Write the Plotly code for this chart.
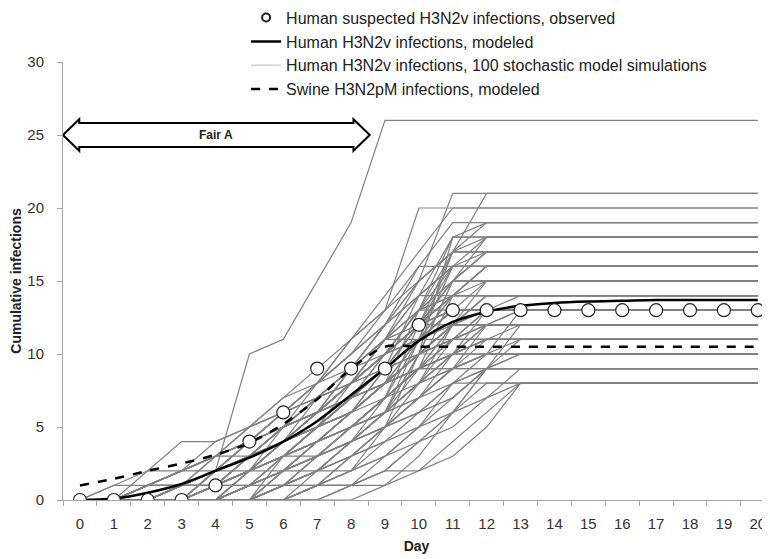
import plotly.graph_objects as go

days = list(range(21))
observed = [0, 0, 0, 0, 1, 4, 6, 9, 9, 9, 12, 13, 13, 13, 13, 13, 13, 13, 13, 13, 13]
human_modeled = [0, 0.1, 0.5, 1.1, 2.0, 2.9, 4.0, 5.4, 7.2, 9.0, 10.9, 12.2, 12.9, 13.3,
                 13.5, 13.6, 13.65, 13.7, 13.7, 13.7, 13.7]
swine_modeled = [1.0, 1.45, 2.0, 2.5, 3.1, 3.9, 5.2, 6.9, 9.0, 10.5, 10.5, 10.5, 10.5, 10.5,
                 10.5, 10.5, 10.5, 10.5, 10.5, 10.5, 10.5]

sim_1 = [0,0,0,0,2,10,11,15,19,26,26,26,26,26,26,26,26,26,26,26,26]
sim_2 = [0,0,1,2,3,4,5,7,9,12,15,21,21,21,21,21,21,21,21,21,21]
sim_3 = [0,0,0,1,2,3,5,6,8,10,13,17,21,21,21,21,21,21,21,21,21]
sim_4 = [0,0,1,2,3,5,7,8,11,13,20,20,20,20,20,20,20,20,20,20,20]
sim_5 = [0,0,0,0,1,3,4,6,8,11,15,17,19,19,19,19,19,19,19,19,19]
sim_6 = [0,0,0,1,2,4,6,7,9,12,14,18,18,18,18,18,18,18,18,18,18]
sim_7 = [0,0,0,0,0,2,3,5,7,10,13,16,18,18,18,18,18,18,18,18,18]
sim_8 = [0,0,0,1,3,4,5,7,8,10,12,17,17,17,17,17,17,17,17,17,17]
sim_9 = [0,0,0,0,1,2,4,6,9,11,13,15,17,17,17,17,17,17,17,17,17]
sim_10 = [0,0,1,2,4,5,6,8,10,12,16,16,16,16,16,16,16,16,16,16,16]
sim_11 = [0,0,0,0,2,3,5,6,8,10,12,14,16,16,16,16,16,16,16,16,16]
sim_12 = [0,0,0,1,2,3,4,6,7,9,12,15,15,15,15,15,15,15,15,15,15]
sim_13 = [0,0,0,0,0,1,3,5,8,10,11,13,15,15,15,15,15,15,15,15,15]
sim_14 = [0,0,1,1,2,3,5,6,8,11,14,14,14,14,14,14,14,14,14,14,14]
sim_15 = [0,0,0,0,1,2,3,5,7,9,11,12,14,14,14,14,14,14,14,14,14]
sim_16 = [0,0,0,0,0,0,2,4,6,8,10,12,13,14,14,14,14,14,14,14,14]
sim_17 = [0,0,0,1,2,3,4,5,7,10,13,13,13,13,13,13,13,13,13,13,13]
sim_18 = [0,0,0,0,1,3,4,6,8,9,11,13,13,13,13,13,13,13,13,13,13]
sim_19 = [0,0,0,0,0,1,2,4,6,8,10,12,13,13,13,13,13,13,13,13,13]
sim_20 = [0,0,0,0,0,0,1,2,4,7,9,11,12,13,13,13,13,13,13,13,13]
sim_21 = [0,0,1,2,3,4,6,7,9,11,12,12,12,12,12,12,12,12,12,12,12]
sim_22 = [0,0,0,0,2,4,5,6,8,10,11,12,12,12,12,12,12,12,12,12,12]
sim_23 = [0,0,0,0,0,1,2,3,5,7,9,10,12,12,12,12,12,12,12,12,12]
sim_24 = [0,0,0,0,0,0,0,1,3,5,7,9,11,12,12,12,12,12,12,12,12]
sim_25 = [0,0,0,1,2,3,5,6,8,11,11,11,11,11,11,11,11,11,11,11,11]
sim_26 = [0,0,0,0,1,2,3,5,7,8,10,11,11,11,11,11,11,11,11,11,11]
sim_27 = [0,0,0,0,0,1,3,4,5,7,9,10,11,11,11,11,11,11,11,11,11]
sim_28 = [0,0,0,0,0,0,1,2,4,6,8,9,10,11,11,11,11,11,11,11,11]
sim_29 = [0,0,0,1,2,3,4,5,7,9,10,10,10,10,10,10,10,10,10,10,10]
sim_30 = [0,0,0,0,1,2,3,4,6,8,9,10,10,10,10,10,10,10,10,10,10]
sim_31 = [0,0,0,0,0,0,1,3,4,6,7,9,10,10,10,10,10,10,10,10,10]
sim_32 = [0,0,0,0,0,0,0,1,2,4,6,7,9,10,10,10,10,10,10,10,10]
sim_33 = [0,0,0,0,1,2,3,4,6,7,9,9,9,9,9,9,9,9,9,9,9]
sim_34 = [0,0,0,0,0,1,2,3,4,6,7,8,9,9,9,9,9,9,9,9,9]
sim_35 = [0,0,0,0,0,0,0,1,1,2,4,5,7,9,9,9,9,9,9,9,9]
sim_36 = [0,0,0,0,0,1,2,3,4,5,6,8,8,8,8,8,8,8,8,8,8]
sim_37 = [0,0,0,0,0,0,0,1,1,1,2,4,6,8,8,8,8,8,8,8,8]
sim_38 = [0,0,0,0,0,0,1,1,1,2,2,3,5,8,8,8,8,8,8,8,8]
sim_39 = [0,1,2,2,3,4,5,6,7,9,12,14,16,16,16,16,16,16,16,16,16]
sim_40 = [0,0,2,4,4,5,6,8,10,13,16,19,19,19,19,19,19,19,19,19,19]
sim_41 = [0,0,0,1,3,4,6,8,11,14,17,20,20,20,20,20,20,20,20,20,20]
sim_42 = [0,0,0,0,1,3,5,7,9,12,15,17,17,17,17,17,17,17,17,17,17]
sim_43 = [0,0,1,2,2,3,4,6,9,11,13,14,14,14,14,14,14,14,14,14,14]
sim_44 = [0,0,0,0,0,2,4,7,9,11,12,13,13,13,13,13,13,13,13,13,13]
sim_45 = [0,1,1,2,3,4,5,7,8,10,12,13,13,13,13,13,13,13,13,13,13]
sim_46 = [0,0,0,1,1,2,4,6,9,10,12,15,15,15,15,15,15,15,15,15,15]
sim_47 = [0,0,0,0,2,4,6,8,9,11,13,15,18,18,18,18,18,18,18,18,18]
sim_48 = [0,0,0,0,0,0,2,3,5,7,9,11,13,13,13,13,13,13,13,13,13]
sim_49 = [0,0,0,1,2,4,5,6,7,9,10,11,11,11,11,11,11,11,11,11,11]
sim_50 = [0,0,0,0,1,1,2,3,4,5,7,9,10,10,10,10,10,10,10,10,10]
sim_51 = [0,0,0,0,1,3,4,5,7,8,10,12,14,14,14,14,14,14,14,14,14]
sim_52 = [0,0,1,2,3,5,7,9,11,13,15,17,17,17,17,17,17,17,17,17,17]
sim_53 = [0,0,0,0,1,2,3,5,6,8,9,12,12,12,12,12,12,12,12,12,12]
sim_54 = [0,0,0,0,0,1,3,5,6,8,10,12,15,15,15,15,15,15,15,15,15]
sim_55 = [0,0,0,1,2,3,4,6,8,10,12,14,16,16,16,16,16,16,16,16,16]
sim_56 = [0,0,0,0,0,1,2,3,5,6,11,17,18,18,18,18,18,18,18,18,18]
sim_57 = [0,0,0,0,1,2,3,4,5,7,12,16,16,16,16,16,16,16,16,16,16]
sim_58 = [0,0,0,0,0,0,1,3,4,6,10,15,17,17,17,17,17,17,17,17,17]
sim_59 = [0,0,0,0,1,2,4,5,6,8,13,14,14,14,14,14,14,14,14,14,14]
sim_60 = [0,0,0,1,2,2,3,5,6,9,14,16,16,16,16,16,16,16,16,16,16]
sim_61 = [0,0,0,0,0,1,1,3,5,7,11,13,13,13,13,13,13,13,13,13,13]
sim_62 = [0,0,0,0,0,0,1,2,3,5,8,12,13,13,13,13,13,13,13,13,13]
sim_63 = [0,0,0,0,1,2,3,3,5,6,8,11,12,12,12,12,12,12,12,12,12]
sim_64 = [0,0,0,0,0,1,2,4,5,7,9,14,15,15,15,15,15,15,15,15,15]
sim_65 = [0,0,0,0,0,0,0,2,4,6,9,12,14,14,14,14,14,14,14,14,14]
sim_66 = [0,0,0,0,0,0,2,4,5,7,8,10,11,11,11,11,11,11,11,11,11]
sim_67 = [0,0,0,1,1,2,3,4,6,8,10,11,12,12,12,12,12,12,12,12,12]
sim_68 = [0,0,0,0,1,2,2,3,4,6,8,9,10,10,10,10,10,10,10,10,10]
sim_69 = [0,0,0,0,0,0,0,0,1,3,5,8,10,13,13,13,13,13,13,13,13]
sim_70 = [0,0,0,0,0,0,1,2,2,3,5,7,9,9,9,9,9,9,9,9,9]
sim_71 = [0,0,0,0,0,0,0,1,2,3,4,6,8,8,8,8,8,8,8,8,8]
sim_72 = [0,0,1,1,2,3,4,5,6,8,9,11,13,13,13,13,13,13,13,13,13]
sim_73 = [0,0,0,0,2,3,4,5,7,9,11,13,13,13,13,13,13,13,13,13,13]
sim_74 = [0,0,0,0,0,1,3,4,6,9,12,14,14,14,14,14,14,14,14,14,14]
sim_75 = [0,0,0,0,1,1,2,4,6,8,11,16,16,16,16,16,16,16,16,16,16]
sim_76 = [0,0,0,1,2,3,5,7,8,10,13,18,19,19,19,19,19,19,19,19,19]
sim_77 = [0,0,0,0,0,2,3,4,6,8,10,11,12,12,12,12,12,12,12,12,12]
sim_78 = [0,0,0,0,0,0,1,1,3,5,7,10,12,13,13,13,13,13,13,13,13]
sim_79 = [0,0,1,1,1,2,3,4,5,7,9,10,11,11,11,11,11,11,11,11,11]
sim_80 = [0,0,0,0,1,2,4,5,7,9,12,15,17,17,17,17,17,17,17,17,17]
sim_81 = [0,0,0,0,0,0,0,0,0,1,3,6,9,11,11,11,11,11,11,11,11]
sim_82 = [0,0,0,0,1,3,5,8,10,12,14,16,16,16,16,16,16,16,16,16,16]
sim_83 = [0,0,0,0,0,0,3,5,7,9,12,13,13,13,13,13,13,13,13,13,13]
sim_84 = [0,0,0,1,1,3,5,6,7,8,10,12,12,12,12,12,12,12,12,12,12]
sim_85 = [0,0,0,0,0,2,5,6,7,8,9,10,10,10,10,10,10,10,10,10,10]
sim_86 = [0,0,1,2,3,3,4,6,7,8,9,9,9,9,9,9,9,9,9,9,9]
sim_87 = [0,0,0,0,0,0,0,1,2,5,10,15,15,15,15,15,15,15,15,15,15]
sim_88 = [0,0,0,0,1,2,3,4,5,6,10,18,18,18,18,18,18,18,18,18,18]
sim_89 = [0,0,0,0,0,1,2,2,4,6,8,10,11,11,11,11,11,11,11,11,11]
sim_90 = [0,0,0,0,0,0,0,0,1,2,4,6,9,12,12,12,12,12,12,12,12]
sim_91 = [0,0,0,1,2,3,4,5,6,8,11,14,14,14,14,14,14,14,14,14,14]
sim_92 = [0,0,0,0,1,2,4,6,8,10,11,13,13,13,13,13,13,13,13,13,13]
sim_93 = [0,0,0,0,0,1,1,2,3,4,6,8,9,9,9,9,9,9,9,9,9]
sim_94 = [0,0,0,0,2,3,4,6,8,11,14,16,17,17,17,17,17,17,17,17,17]
sim_95 = [0,0,0,0,0,0,2,3,4,5,7,9,12,12,12,12,12,12,12,12,12]
sim_96 = [0,0,0,0,1,2,3,4,5,6,8,10,13,13,13,13,13,13,13,13,13]
sim_97 = [0,0,0,1,2,3,4,6,8,9,11,14,16,16,16,16,16,16,16,16,16]
sim_98 = [0,0,0,0,0,1,2,3,4,5,6,7,9,10,10,10,10,10,10,10,10]
sim_99 = [0,0,0,0,0,0,1,2,3,4,5,6,7,8,8,8,8,8,8,8,8]
sim_100 = [0,0,1,1,2,4,6,7,8,10,12,15,15,15,15,15,15,15,15,15,15]

simulations = [sim_1, sim_2, sim_3, sim_4, sim_5, sim_6, sim_7, sim_8, sim_9, sim_10,
               sim_11, sim_12, sim_13, sim_14, sim_15, sim_16, sim_17, sim_18, sim_19, sim_20,
               sim_21, sim_22, sim_23, sim_24, sim_25, sim_26, sim_27, sim_28, sim_29, sim_30,
               sim_31, sim_32, sim_33, sim_34, sim_35, sim_36, sim_37, sim_38, sim_39, sim_40,
               sim_41, sim_42, sim_43, sim_44, sim_45, sim_46, sim_47, sim_48, sim_49, sim_50,
               sim_51, sim_52, sim_53, sim_54, sim_55, sim_56, sim_57, sim_58, sim_59, sim_60,
               sim_61, sim_62, sim_63, sim_64, sim_65, sim_66, sim_67, sim_68, sim_69, sim_70,
               sim_71, sim_72, sim_73, sim_74, sim_75, sim_76, sim_77, sim_78, sim_79, sim_80,
               sim_81, sim_82, sim_83, sim_84, sim_85, sim_86, sim_87, sim_88, sim_89, sim_90,
               sim_91, sim_92, sim_93, sim_94, sim_95, sim_96, sim_97, sim_98, sim_99, sim_100]

y_ticks = [0, 5, 10, 15, 20, 25, 30]
fair_span = [-0.5, 8.55]
fair_label = "Fair A"

FONT = "Liberation Sans, Arial, sans-serif"
SIM_COLOR = "#808080"
AXIS_COLOR = "#a6a6a6"

fig = go.Figure()

for i, s in enumerate(simulations):
    fig.add_trace(go.Scatter(
        x=days, y=s, mode="lines",
        line=dict(color=SIM_COLOR, width=1.2),
        name="Human H3N2v infections, 100 stochastic model simulations",
        showlegend=False, hoverinfo="skip",
    ))
fig.add_trace(go.Scatter(
    x=[None], y=[None], mode="lines",
    line=dict(color="#c8c8c8", width=1.2),
    name="Human H3N2v infections, 100 stochastic model simulations", legendrank=3,
))

fig.add_trace(go.Scatter(
    x=days, y=swine_modeled, mode="lines",
    line=dict(color="black", width=2.5, dash="dash", shape="spline", smoothing=0.8),
    name="Swine H3N2pM infections, modeled", legendrank=4,
))
fig.add_trace(go.Scatter(
    x=days, y=human_modeled, mode="lines",
    line=dict(color="black", width=2.5, shape="spline", smoothing=1),
    name="Human H3N2v infections, modeled", legendrank=2,
))
fig.add_trace(go.Scatter(
    x=days, y=observed, mode="markers",
    marker=dict(symbol="circle", size=13, color="white", line=dict(color="#222222", width=1.2)),
    name="Human suspected H3N2v infections, observed", showlegend=False,
))
fig.add_trace(go.Scatter(
    x=[None], y=[None], mode="markers",
    marker=dict(symbol="circle", size=8, color="white", line=dict(color="#222222", width=2)),
    name="Human suspected H3N2v infections, observed", legendrank=1,
))

# Fair A double arrow
x0, x1 = fair_span
hl = 0.48
bh, hh = 0.82, 1.08
path = (f"M {x0},25 L {x0+hl},{25+hh} L {x0+hl},{25+bh} L {x1-hl},{25+bh} "
        f"L {x1-hl},{25+hh} L {x1},25 L {x1-hl},{25-hh} L {x1-hl},{25-bh} "
        f"L {x0+hl},{25-bh} L {x0+hl},{25-hh} Z")
fig.add_shape(type="path", path=path, xref="x", yref="y",
              line=dict(color="black", width=2), fillcolor="white", layer="above")
fig.add_annotation(x=(x0 + x1) / 2, y=25, text="<b>" + fair_label + "</b>",
                   showarrow=False, font=dict(family=FONT, size=12, color="#222222"))

# the page body adds an 8px offset, so the figure is sized/margined to compensate
fig.update_layout(
    width=762, height=551,
    margin=dict(l=55, r=0, t=54, b=59, autoexpand=False),
    paper_bgcolor="white", plot_bgcolor="white",
    font=dict(family=FONT, color="#333333"),
    showlegend=True,
    legend=dict(
        x=0.259, y=1.14, xanchor="left", yanchor="top",
        bgcolor="rgba(0,0,0,0)", font=dict(family=FONT, size=16, color="#222222"),
        itemwidth=30, tracegroupgap=0, traceorder="normal",
    ),
    xaxis=dict(
        range=[-0.5, 20.36], showgrid=False, zeroline=False,
        showline=True, linecolor=AXIS_COLOR, linewidth=1,
        tickvals=days, ticktext=[str(d) for d in days], ticks="",
        tickfont=dict(family=FONT, size=15, color="#333333"),
        ticklabelstandoff=10,
        minor=dict(tick0=0.5, dtick=1, ticks="outside", ticklen=5, tickcolor=AXIS_COLOR, showgrid=False),
        title=dict(text="<b>Day</b>", font=dict(family=FONT, size=14, color="#222222"), standoff=10),
    ),
    yaxis=dict(
        range=[0, 30], showgrid=False, zeroline=False,
        showline=True, linecolor=AXIS_COLOR, linewidth=1,
        tickvals=y_ticks, ticks="outside", ticklen=5, tickcolor=AXIS_COLOR,
        tickfont=dict(family=FONT, size=15, color="#333333"),
        ticklabelstandoff=10,
        title=dict(text="<b>Cumulative infections</b>", font=dict(family=FONT, size=14, color="#222222"), standoff=2),
    ),
)

fig.write_html("out.html")
